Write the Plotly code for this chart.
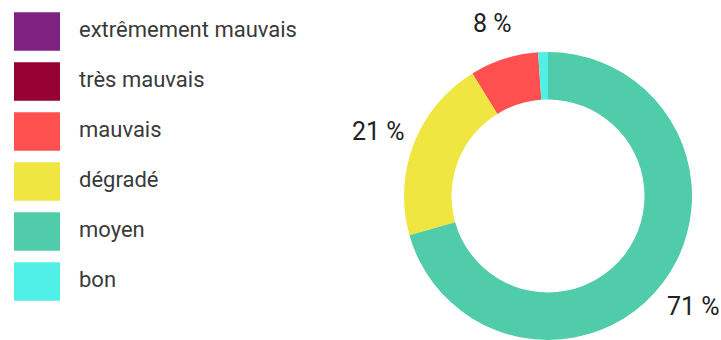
import math
import plotly.graph_objects as go

# Air-quality index categories, legend order (worst to best)
categories = ["extrêmement mauvais", "très mauvais", "mauvais", "dégradé", "moyen", "bon"]
shares = [0.0, 0.0, 7.7, 20.6, 70.6, 1.1]
colors = ["#7e2180", "#960032", "#ff5050", "#f0e641", "#50ccaa", "#50f0e6"]

W, H = 721, 340
total = sum(shares)
fractions = [v / total for v in shares]

# Donut geometry (pixels)
cx, cy, r = 548, 196, 144
label_r = 182
start_deg = -360 * fractions[-1]  # "bon" sits just left of 12 o'clock

fig = go.Figure()
fig.add_trace(go.Pie(
    labels=categories,
    values=shares,
    sort=False,
    direction="counterclockwise",
    rotation=start_deg,
    hole=0.67,
    marker=dict(colors=colors, line=dict(width=0)),
    textinfo="none",
    domain=dict(x=[(cx - r) / W, (cx + r) / W], y=[1 - (cy + r) / H, 1 - (cy - r) / H]),
    showlegend=False,
    hoverinfo="label+percent",
))

annotations = []

# Percentage labels at the middle angle of each slice, outside the ring
angle = start_deg  # clockwise degrees from 12 o'clock
for frac in fractions:
    mid = angle - frac * 360 / 2
    angle -= frac * 360
    if frac < 0.02:
        continue
    a = math.radians(mid)
    px = cx + label_r * math.sin(a)
    py = cy - label_r * math.cos(a)
    annotations.append(dict(
        text=f"{round(frac * 100)} %", xref="paper", yref="paper",
        x=px / W, y=1 - (py + 1) / H, xanchor="center", yanchor="middle",
        showarrow=False, font=dict(family="Roboto", size=25, color="#222222"),
    ))

# Custom legend: large colour swatches with labels
shapes = []
sw_left, sw_w, sw_h, row_top, pitch = 14, 46, 38.5, 12.3, 50
for i, (name, col) in enumerate(zip(categories, colors)):
    top = row_top + i * pitch
    shapes.append(dict(
        type="rect", xref="paper", yref="paper",
        x0=sw_left / W, x1=(sw_left + sw_w) / W,
        y0=1 - (top + sw_h) / H, y1=1 - top / H,
        fillcolor=col, line=dict(width=0),
    ))
    annotations.append(dict(
        text=name, xref="paper", yref="paper",
        x=77 / W, y=1 - (top + sw_h / 2 - 2) / H,
        xanchor="left", yanchor="middle", showarrow=False,
        font=dict(family="Roboto", size=22, color="#3a3a3a"),
    ))

fig.update_layout(
    width=W, height=H,
    margin=dict(l=0, r=0, t=0, b=0),
    paper_bgcolor="white",
    plot_bgcolor="white",
    shapes=shapes,
    annotations=annotations,
)

fig.write_html("out.html")
